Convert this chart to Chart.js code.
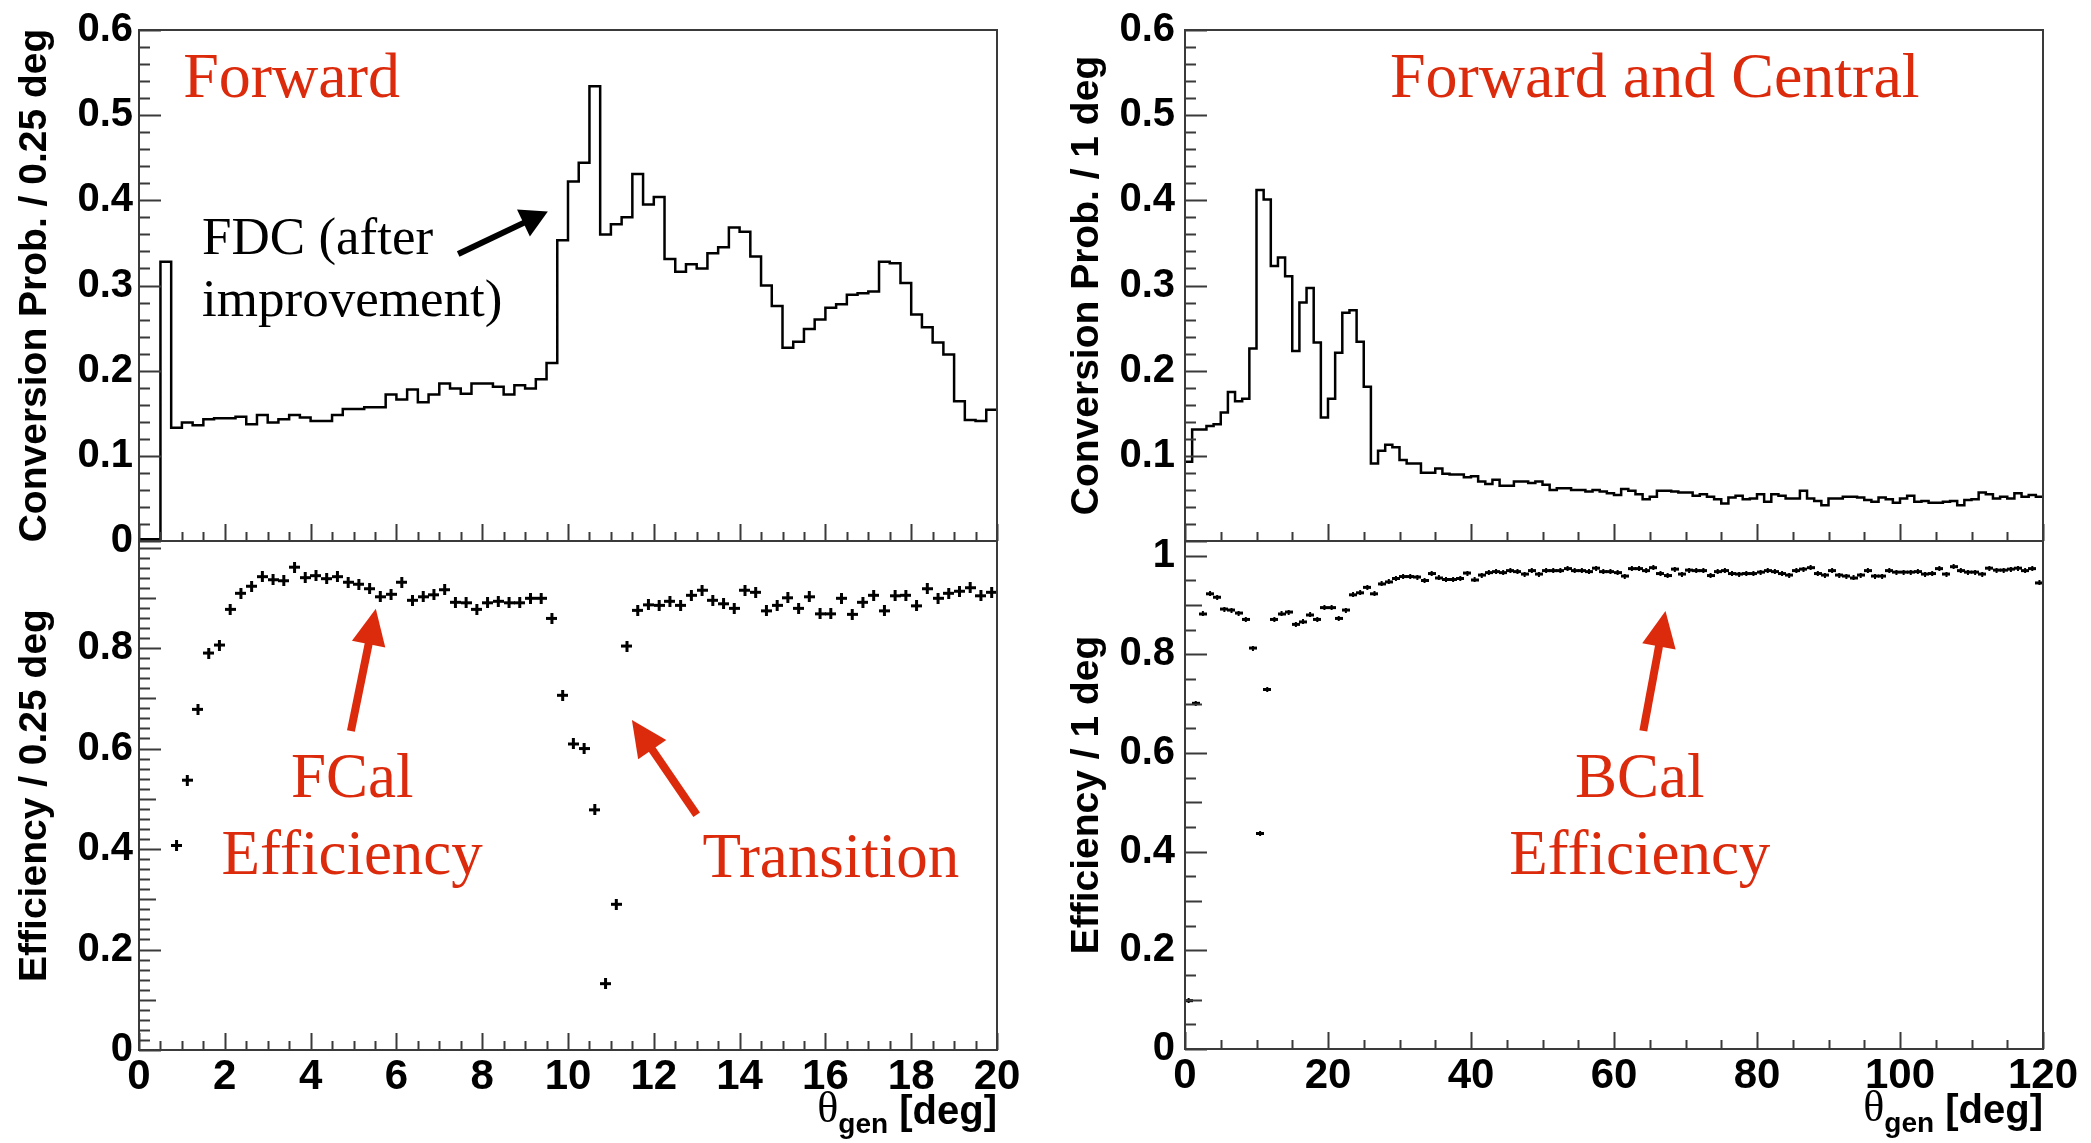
<!DOCTYPE html>
<html>
<head>
<meta charset="utf-8">
<script src="https://cdn.jsdelivr.net/npm/chart.js@4.4.1/dist/chart.umd.min.js"></script>
<style>
  body { margin: 0; background: #fff; width: 2091px; height: 1143px; position: relative; overflow: hidden; }
  canvas { position: absolute; }
</style>
</head>
<body>
<canvas id="c-tl" width="1040" height="560" style="left:0;top:0"></canvas>
<canvas id="c-bl" width="1040" height="613" style="left:0;top:530px"></canvas>
<canvas id="c-tr" width="1051" height="560" style="left:1040px;top:0"></canvas>
<canvas id="c-br" width="1051" height="613" style="left:1040px;top:530px"></canvas>
<script>
// bin widths (deg)
const FWD_BIN = 0.25;
const CEN_BIN = 1;

// conversion probability per 0.25 deg, 0..20 deg
const fwdProb = [
  0.002, 0.002, 0.328, 0.133, 0.139, 0.136, 0.143, 0.144, 0.144, 0.146,
  0.137, 0.148, 0.139, 0.143, 0.148, 0.145, 0.141, 0.141, 0.148, 0.155,
  0.155, 0.157, 0.157, 0.172, 0.166, 0.178, 0.163, 0.172, 0.185, 0.179,
  0.173, 0.185, 0.185, 0.181, 0.172, 0.183, 0.179, 0.190, 0.209, 0.353,
  0.422, 0.444, 0.534, 0.360, 0.372, 0.380, 0.431, 0.395, 0.404, 0.331,
  0.316, 0.325, 0.320, 0.338, 0.345, 0.368, 0.363, 0.334, 0.300, 0.276,
  0.227, 0.234, 0.249, 0.260, 0.274, 0.278, 0.289, 0.291, 0.293, 0.328,
  0.326, 0.303, 0.266, 0.251, 0.233, 0.219, 0.164, 0.142, 0.141, 0.154
];

// efficiency per 0.25 deg (empty below 0.75 deg)
const fwdEff = [
  null, null, null, 0.407, 0.537, 0.678, 0.790, 0.806, 0.877, 0.909,
  0.923, 0.942, 0.936, 0.934, 0.961, 0.940, 0.944, 0.938, 0.942, 0.931,
  0.927, 0.918, 0.902, 0.907, 0.931, 0.895, 0.902, 0.906, 0.916, 0.891,
  0.890, 0.877, 0.890, 0.893, 0.890, 0.890, 0.899, 0.899, 0.859, 0.706,
  0.609, 0.600, 0.478, 0.132, 0.290, 0.804, 0.875, 0.886, 0.885, 0.893,
  0.885, 0.905, 0.915, 0.895, 0.888, 0.879, 0.915, 0.911, 0.874, 0.885,
  0.900, 0.879, 0.902, 0.868, 0.868, 0.899, 0.867, 0.891, 0.905, 0.874,
  0.904, 0.905, 0.884, 0.918, 0.899, 0.909, 0.913, 0.920, 0.904, 0.911
];

// conversion probability per 1 deg, 0..120 deg
const cenProb = [
  0.093, 0.131, 0.131, 0.135, 0.137, 0.151, 0.175, 0.164, 0.167, 0.226,
  0.412, 0.401, 0.323, 0.333, 0.311, 0.223, 0.280, 0.297, 0.233, 0.145,
  0.167, 0.221, 0.268, 0.271, 0.234, 0.181, 0.091, 0.106, 0.113, 0.110,
  0.095, 0.091, 0.091, 0.080, 0.080, 0.085, 0.079, 0.078, 0.078, 0.075,
  0.076, 0.070, 0.067, 0.072, 0.065, 0.065, 0.070, 0.070, 0.068, 0.070,
  0.066, 0.060, 0.062, 0.062, 0.060, 0.060, 0.058, 0.060, 0.058, 0.056,
  0.054, 0.061, 0.059, 0.055, 0.049, 0.052, 0.059, 0.059, 0.058, 0.057,
  0.057, 0.053, 0.055, 0.052, 0.049, 0.044, 0.051, 0.053, 0.049, 0.050,
  0.055, 0.046, 0.055, 0.053, 0.050, 0.050, 0.059, 0.050, 0.047, 0.042,
  0.050, 0.050, 0.052, 0.052, 0.051, 0.048, 0.046, 0.051, 0.049, 0.045,
  0.050, 0.053, 0.046, 0.047, 0.045, 0.045, 0.046, 0.047, 0.042, 0.048,
  0.049, 0.057, 0.055, 0.050, 0.052, 0.050, 0.056, 0.052, 0.054, 0.052
];

// efficiency per 1 deg
const cenEff = [
  0.098, 0.701, 0.882, 0.923, 0.916, 0.892, 0.890, 0.884, 0.871, 0.813,
  0.437, 0.729, 0.871, 0.882, 0.886, 0.861, 0.866, 0.880, 0.871, 0.895,
  0.895, 0.873, 0.890, 0.921, 0.925, 0.936, 0.923, 0.943, 0.947, 0.954,
  0.958, 0.958, 0.957, 0.950, 0.964, 0.955, 0.952, 0.952, 0.954, 0.965,
  0.951, 0.961, 0.966, 0.968, 0.966, 0.970, 0.968, 0.963, 0.970, 0.963,
  0.970, 0.970, 0.970, 0.974, 0.970, 0.970, 0.968, 0.975, 0.968, 0.968,
  0.966, 0.959, 0.974, 0.974, 0.970, 0.976, 0.964, 0.960, 0.973, 0.963,
  0.971, 0.970, 0.970, 0.960, 0.968, 0.970, 0.964, 0.963, 0.964, 0.964,
  0.967, 0.970, 0.968, 0.964, 0.961, 0.970, 0.973, 0.976, 0.964, 0.961,
  0.970, 0.961, 0.959, 0.955, 0.961, 0.970, 0.959, 0.959, 0.970, 0.967,
  0.967, 0.967, 0.968, 0.963, 0.964, 0.974, 0.963, 0.978, 0.970, 0.967,
  0.967, 0.963, 0.975, 0.971, 0.971, 0.973, 0.975, 0.970, 0.974, 0.945
];

// tick labels
const fwdXTicks = [0, 2, 4, 6, 8, 10, 12, 14, 16, 18, 20];
const cenXTicks = [0, 20, 40, 60, 80, 100, 120];
const fwdProbTicks = [0, 0.1, 0.2, 0.3, 0.4, 0.5, 0.6];
const cenProbTicks = [0.1, 0.2, 0.3, 0.4, 0.5, 0.6];
const fwdEffTicks = [0, 0.2, 0.4, 0.6, 0.8];
const cenEffTicks = [0, 0.2, 0.4, 0.6, 0.8, 1];

const SANS = "'Liberation Sans', Arial, Helvetica, sans-serif";
const SERIF = "'Liberation Serif', 'Times New Roman', serif";
const RED = '#dc2a0c';
const FRAME = '#3a3a3a';

// histogram outline: left edge of every bin plus the closing right edge
function histPoints(vals, w) {
  const pts = vals.map((v, i) => ({ x: i * w, y: v }));
  pts.push({ x: vals.length * w, y: vals[vals.length - 1] });
  return pts;
}
// efficiency markers at bin centres
function effPoints(vals, w) {
  const pts = [];
  vals.forEach((v, i) => { if (v !== null) pts.push({ x: (i + 0.5) * w, y: v }); });
  return pts;
}
// ROOT-like "+" marker (x bar = bin width, y bar = error)
function crossMarker(w, h, lwH, lwV) {
  const c = document.createElement('canvas');
  c.width = w; c.height = h;
  const g = c.getContext('2d');
  g.fillStyle = '#000';
  g.fillRect(0, (h - lwH) / 2, w, lwH);
  g.fillRect((w - lwV) / 2, 0, lwV, h);
  return c;
}

function isMult(v, step) {
  const r = v / step;
  return Math.abs(r - Math.round(r)) < 1e-6;
}

// frame + inward ticks like ROOT
function framePlugin(t) {
  return {
    id: 'rootFrame',
    afterDatasetsDraw(chart) {
      const { ctx, chartArea: a, scales: { x, y } } = chart;
      ctx.save();
      ctx.strokeStyle = FRAME;
      ctx.lineWidth = 2;
      ctx.beginPath();
      const nx = Math.round((x.max - x.min) / t.xMinor);
      for (let i = 0; i <= nx; i++) {
        const v = x.min + i * t.xMinor;
        const px = Math.round(x.getPixelForValue(v)) + 0.5;
        const len = isMult(v, t.xMajor) ? 17 : 9;
        ctx.moveTo(px, a.bottom);
        ctx.lineTo(px, a.bottom - len);
      }
      const ny = Math.floor((y.max - y.min) / t.yMinor + 1e-6);
      for (let i = 0; i <= ny; i++) {
        const v = y.min + i * t.yMinor;
        const py = Math.round(y.getPixelForValue(v)) + 0.5;
        let len = 11;
        if (isMult(v, t.yMajor)) len = 22;
        else if (t.yMid && isMult(v, t.yMid)) len = 17;
        ctx.moveTo(a.left, py);
        ctx.lineTo(a.left + len, py);
      }
      ctx.stroke();
      ctx.strokeRect(a.left, a.top, a.right - a.left, a.bottom - a.top);
      ctx.restore();
    }
  };
}

function drawArrow(ctx, x0, y0, x1, y1, ar) {
  const ang = Math.atan2(y1 - y0, x1 - x0);
  const c = Math.cos(ang), s = Math.sin(ang);
  const bx = x1 - ar.head * c, by = y1 - ar.head * s;
  ctx.strokeStyle = ar.color;
  ctx.fillStyle = ar.color;
  ctx.lineWidth = ar.width;
  ctx.beginPath();
  ctx.moveTo(x0, y0);
  ctx.lineTo(bx + 2 * c, by + 2 * s);
  ctx.stroke();
  ctx.beginPath();
  ctx.moveTo(x1, y1);
  ctx.lineTo(bx - s * ar.headW / 2, by + c * ar.headW / 2);
  ctx.lineTo(bx + s * ar.headW / 2, by - c * ar.headW / 2);
  ctx.closePath();
  ctx.fill();
}

// labels and arrows placed in data coordinates
function notesPlugin(notes) {
  return {
    id: 'notes',
    afterDatasetsDraw(chart) {
      const { ctx, chartArea: a, scales: { x, y } } = chart;
      ctx.save();
      ctx.textBaseline = 'alphabetic';
      (notes.texts || []).forEach(t => {
        ctx.font = t.font;
        ctx.fillStyle = t.color;
        ctx.textAlign = t.align || 'left';
        ctx.fillText(t.text, x.getPixelForValue(t.x), y.getPixelForValue(t.y));
      });
      (notes.arrows || []).forEach(ar => {
        drawArrow(ctx, x.getPixelForValue(ar.x0), y.getPixelForValue(ar.y0),
          x.getPixelForValue(ar.x1), y.getPixelForValue(ar.y1), ar);
      });
      if (notes.xTitle) {
        // theta_gen [deg], right aligned under the axis
        ctx.fillStyle = '#000';
        ctx.textAlign = 'left';
        const base = a.bottom + 74;
        ctx.font = 'bold 40px ' + SANS;
        const w1 = ctx.measureText(' [deg]').width;
        ctx.fillText(' [deg]', a.right - w1, base);
        ctx.font = 'bold 28px ' + SANS;
        const w2 = ctx.measureText('gen').width;
        ctx.fillText('gen', a.right - w1 - w2, base + 9);
        ctx.font = '44px ' + SERIF;
        const w3 = ctx.measureText('\u03b8').width;
        ctx.fillText('\u03b8', a.right - w1 - w2 - w3, base - 2);
      }
      ctx.restore();
    }
  };
}

function makePanel(id, cfg) {
  const chart = new Chart(document.getElementById(id), {
    type: cfg.type,
    data: { datasets: [cfg.dataset] },
    options: {
      responsive: false,
      animation: false,
      devicePixelRatio: 1,
      events: [],
      layout: { padding: cfg.padding },
      plugins: { legend: { display: false }, tooltip: { enabled: false } },
      scales: {
        x: {
          type: 'linear', min: 0, max: cfg.xMax,
          afterBuildTicks: s => { s.ticks = cfg.xTicks.map(v => ({ value: v })); },
          afterFit: s => { s.height = cfg.xHeight; s.paddingLeft = 0; s.paddingRight = 0; },
          grid: { display: false, drawTicks: false },
          border: { display: false },
          ticks: {
            display: cfg.xLabels, color: '#000', padding: 2, maxRotation: 0, autoSkip: false,
            font: { family: SANS, size: 42, weight: 'bold' },
            callback: v => String(v)
          }
        },
        y: {
          type: 'linear', min: 0, max: cfg.yMax,
          afterBuildTicks: s => { s.ticks = cfg.yTicks.map(v => ({ value: v })); },
          afterFit: s => { s.width = cfg.yWidth; s.paddingTop = 0; s.paddingBottom = 0; },
          grid: { display: false, drawTicks: false },
          border: { display: false },
          ticks: {
            color: '#000', padding: cfg.yPad,
            font: { family: SANS, size: 40, weight: 'bold' },
            callback: v => String(v)
          },
          title: {
            display: true, text: cfg.yTitle, color: '#000',
            font: { family: SANS, size: 39, weight: 'bold', lineHeight: 1 },
            padding: { top: cfg.titlePad, bottom: 0 }
          }
        }
      }
    },
    plugins: [framePlugin(cfg.tickSpec), notesPlugin(cfg.notes)]
  });
  return chart;
}

const histStyle = {
  borderColor: '#000', borderWidth: 2.5, pointRadius: 0, fill: false, stepped: true, tension: 0
};

// top left: forward conversion probability
makePanel('c-tl', {
  type: 'line',
  dataset: Object.assign({ data: histPoints(fwdProb, FWD_BIN) }, histStyle),
  padding: { left: 0, top: 30, right: 43, bottom: 0 },
  xMax: 20, xTicks: fwdXTicks, xLabels: false, xHeight: 19,
  yMax: 0.6, yTicks: fwdProbTicks, yWidth: 139, yPad: 6,
  yTitle: 'Conversion Prob. / 0.25 deg', titlePad: 16,
  tickSpec: { xMajor: 2, xMinor: 0.5, yMajor: 0.1, yMinor: 0.02 },
  notes: {
    texts: [
      { text: 'Forward', x: 1.03, y: 0.521, color: RED, font: '64px ' + SERIF },
      { text: 'FDC (after', x: 1.47, y: 0.337, color: '#000', font: '53px ' + SERIF },
      { text: 'improvement)', x: 1.47, y: 0.264, color: '#000', font: '53px ' + SERIF }
    ],
    arrows: [
      { x0: 7.44, y0: 0.337, x1: 9.53, y1: 0.387, color: '#000', width: 6, head: 27, headW: 30 }
    ]
  }
});

// bottom left: forward efficiency
makePanel('c-bl', {
  type: 'scatter',
  dataset: { data: effPoints(fwdEff, FWD_BIN), pointStyle: crossMarker(11, 11, 3, 3), pointRadius: 4, showLine: false },
  padding: { left: 0, top: 11, right: 43, bottom: 0 },
  xMax: 20, xTicks: fwdXTicks, xLabels: true, xHeight: 93,
  yMax: 1.013, yTicks: fwdEffTicks, yWidth: 139, yPad: 6,
  yTitle: 'Efficiency / 0.25 deg', titlePad: 16,
  tickSpec: { xMajor: 2, xMinor: 0.5, yMajor: 0.2, yMid: 0.1, yMinor: 0.02 },
  notes: {
    texts: [
      { text: 'FCal', x: 4.97, y: 0.503, color: RED, font: '63px ' + SERIF, align: 'center' },
      { text: 'Efficiency', x: 4.97, y: 0.350, color: RED, font: '63px ' + SERIF, align: 'center' },
      { text: 'Transition', x: 16.13, y: 0.344, color: RED, font: '63px ' + SERIF, align: 'center' }
    ],
    arrows: [
      { x0: 4.94, y0: 0.635, x1: 5.52, y1: 0.878, color: RED, width: 8, head: 36, headW: 34 },
      { x0: 13.0, y0: 0.468, x1: 11.49, y1: 0.657, color: RED, width: 8, head: 36, headW: 34 }
    ],
    xTitle: true
  }
});

// top right: forward and central conversion probability
makePanel('c-tr', {
  type: 'line',
  dataset: Object.assign({ data: histPoints(cenProb, CEN_BIN) }, histStyle),
  padding: { left: 0, top: 30, right: 48, bottom: 0 },
  xMax: 120, xTicks: cenXTicks, xLabels: false, xHeight: 19,
  yMax: 0.6, yTicks: cenProbTicks, yWidth: 145, yPad: 10,
  yTitle: 'Conversion Prob. / 1 deg', titlePad: 28,
  tickSpec: { xMajor: 20, xMinor: 5, yMajor: 0.1, yMinor: 0.02 },
  notes: {
    texts: [
      { text: 'Forward and Central', x: 65.7, y: 0.521, color: RED, font: '64px ' + SERIF, align: 'center' }
    ],
    arrows: []
  }
});

// bottom right: forward and central efficiency
makePanel('c-br', {
  type: 'scatter',
  dataset: { data: effPoints(cenEff, CEN_BIN), pointStyle: crossMarker(8, 5, 3, 2), pointRadius: 3, showLine: false },
  padding: { left: 0, top: 11, right: 48, bottom: 0 },
  xMax: 120, xTicks: cenXTicks, xLabels: true, xHeight: 94,
  yMax: 1.03, yTicks: cenEffTicks, yWidth: 145, yPad: 10,
  yTitle: 'Efficiency / 1 deg', titlePad: 28,
  tickSpec: { xMajor: 20, xMinor: 5, yMajor: 0.2, yMid: 0.1, yMinor: 0.05 },
  notes: {
    texts: [
      { text: 'BCal', x: 63.6, y: 0.511, color: RED, font: '63px ' + SERIF, align: 'center' },
      { text: 'Efficiency', x: 63.6, y: 0.355, color: RED, font: '63px ' + SERIF, align: 'center' }
    ],
    arrows: [
      { x0: 64.1, y0: 0.645, x1: 67.2, y1: 0.888, color: RED, width: 8, head: 36, headW: 34 }
    ],
    xTitle: true
  }
});
</script>
</body>
</html>
